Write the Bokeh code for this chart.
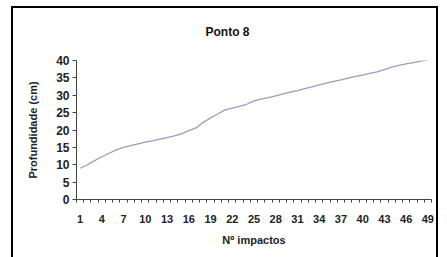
from bokeh.plotting import figure
from bokeh.models import FixedTicker, Range1d, InlineStyleSheet
from bokeh.embed import file_html
from bokeh.resources import INLINE

impactos = list(range(1, 50))
profundidade = [9.0, 10.0, 11.2, 12.3, 13.3, 14.3, 15.0, 15.5, 16.0, 16.5,
                16.9, 17.4, 17.8, 18.3, 18.9, 19.8, 20.6, 22.2, 23.5, 24.6,
                25.8, 26.3, 26.8, 27.4, 28.4, 28.9, 29.3, 29.8, 30.4, 30.9,
                31.3, 31.9, 32.4, 33.0, 33.5, 34.0, 34.4, 34.9, 35.4, 35.8,
                36.3, 36.7, 37.4, 38.1, 38.6, 39.0, 39.4, 39.8, 40.2]
x_tick_labels = list(range(1, 50, 3))
y_ticks = list(range(0, 45, 5))
chart_title = "Ponto 8"

FONT = "Liberation Sans"

css = InlineStyleSheet(css="""
:host { position: relative; }
:host::after {
  content: "";
  position: absolute;
  left: 11px; top: 6px; width: 427px; height: calc(100% - 6px);
  border: 2px solid black;
  border-bottom: none;
  pointer-events: none;
  box-sizing: border-box;
}
""")

p = figure(width=447, height=257, output_backend="svg", toolbar_location=None,
           x_range=Range1d(0.5, 49.5), y_range=Range1d(0, 40),
           min_border_left=76, min_border_right=16, min_border_top=60, min_border_bottom=58,
           title=chart_title, stylesheets=[css])
p.title.align = "left"
p.title.text_font = FONT
p.title.text_font_size = "12px"
p.title.text_font_style = "bold"
p.title.text_color = "#111111"
p.title.offset = 129
p.title.standoff = 43

p.grid.visible = False
p.outline_line_color = None
p.background_fill_color = "white"
p.border_fill_color = "white"

p.line(impactos, profundidade, line_color="#9A9AC4", line_width=1.3)

xa = p.xaxis[0]
xa.ticker = FixedTicker(ticks=x_tick_labels, minor_ticks=[i + 0.5 for i in range(0, 50)])
xa.major_tick_out = 0
xa.major_tick_in = 0
xa.minor_tick_out = 3
xa.minor_tick_in = 0
xa.minor_tick_line_color = "#444444"
xa.axis_line_color = "#444444"
xa.major_label_standoff = 12
xa.major_label_text_font = FONT
xa.major_label_text_font_size = "11px"
xa.major_label_text_font_style = "bold"
xa.major_label_text_color = "#222222"
xa.axis_label = "Nº impactos"
xa.axis_label_text_font = FONT
xa.axis_label_text_font_size = "11px"
xa.axis_label_text_font_style = "bold"
xa.axis_label_text_color = "#222222"
xa.axis_label_standoff = 8

ya = p.yaxis[0]
ya.ticker = FixedTicker(ticks=y_ticks, minor_ticks=[])
ya.major_tick_out = 4
ya.major_tick_in = 0
ya.major_tick_line_color = "#444444"
ya.axis_line_color = "#444444"
ya.major_label_standoff = 3
ya.major_label_text_font = FONT
ya.major_label_text_font_size = "12px"
ya.major_label_text_font_style = "bold"
ya.major_label_text_color = "#222222"
ya.axis_label = "Profundidade (cm)"
ya.axis_label_text_font = FONT
ya.axis_label_text_font_size = "11px"
ya.axis_label_text_font_style = "bold"
ya.axis_label_text_color = "#222222"
ya.axis_label_standoff = 14

open("out.html", "w").write(file_html(p, INLINE))
